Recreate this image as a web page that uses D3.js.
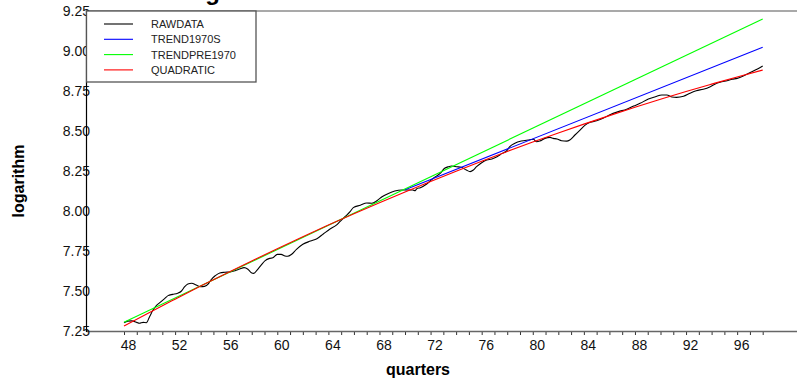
<!DOCTYPE html>
<html>
<head>
<meta charset="utf-8">
<script src="https://cdn.jsdelivr.net/npm/d3@7"></script>
<style>
  html, body { margin: 0; padding: 0; background: #fff; }
  svg { display: block; font-family: "Liberation Sans", Arial, sans-serif; }
</style>
</head>
<body>
<svg id="chart" width="797" height="383"></svg>
<script>
// Log of quarterly output, 1948-1998, with fitted trends.
const rawYears = [
  1948.0, 1948.3, 1948.6, 1949.0, 1949.2, 1949.5, 1949.75, 1950.0, 1950.27, 1950.5,
  1950.8, 1951.2, 1951.45, 1951.8, 1952.2, 1952.5, 1952.75, 1953.0, 1953.3, 1953.65,
  1954.0, 1954.3, 1954.6, 1954.8, 1955.15, 1955.5, 1955.9, 1956.3, 1956.7, 1957.05,
  1957.4, 1957.7, 1957.97, 1958.15, 1958.4, 1958.75, 1959.05, 1959.4, 1959.65, 1960.0,
  1960.3, 1960.6, 1960.8, 1961.1, 1961.5, 1962.0, 1962.6, 1963.1, 1963.6, 1964.1,
  1964.65, 1964.9, 1965.3, 1965.7, 1965.95, 1966.5, 1967.0, 1967.4, 1967.8, 1968.2,
  1968.7, 1969.2, 1969.75, 1970.25, 1970.6, 1970.8, 1970.9, 1971.2, 1971.7, 1972.2,
  1972.75, 1973.1, 1973.4, 1973.65, 1974.05, 1974.4, 1974.8, 1975.1, 1975.35, 1975.6,
  1976.0, 1976.4, 1976.8, 1977.2, 1977.6, 1977.95, 1978.2, 1978.6, 1979.1, 1979.65,
  1980.05, 1980.3, 1980.55, 1980.95, 1981.35, 1981.6, 1981.9, 1982.25, 1982.65, 1982.9,
  1983.3, 1983.7, 1984.1, 1984.5, 1985.0, 1985.5, 1986.0, 1986.7, 1987.35, 1987.9,
  1988.4, 1989.05, 1989.6, 1990.1, 1990.5, 1990.9, 1991.25, 1991.8, 1992.3, 1992.8,
  1993.35, 1993.9, 1994.4, 1994.8, 1995.2, 1995.6, 1996.0, 1996.35, 1996.75, 1997.15,
  1997.55, 1998.0
];
const rawLog = [
  7.302, 7.312, 7.313, 7.304, 7.298, 7.304, 7.302, 7.339, 7.381, 7.406,
  7.427, 7.454, 7.471, 7.479, 7.486, 7.500, 7.527, 7.544, 7.548, 7.537,
  7.527, 7.529, 7.544, 7.569, 7.596, 7.613, 7.617, 7.619, 7.627, 7.637,
  7.646, 7.636, 7.614, 7.610, 7.629, 7.663, 7.690, 7.704, 7.708, 7.729,
  7.729, 7.719, 7.717, 7.728, 7.760, 7.792, 7.812, 7.827, 7.856, 7.886,
  7.913, 7.933, 7.964, 7.996, 8.021, 8.036, 8.050, 8.048, 8.064, 8.089,
  8.110, 8.125, 8.131, 8.131, 8.131, 8.127, 8.138, 8.146, 8.169, 8.204,
  8.235, 8.267, 8.277, 8.281, 8.277, 8.273, 8.256, 8.246, 8.256, 8.277,
  8.302, 8.319, 8.325, 8.339, 8.360, 8.375, 8.402, 8.423, 8.437, 8.444,
  8.448, 8.433, 8.437, 8.454, 8.460, 8.454, 8.450, 8.439, 8.437, 8.444,
  8.475, 8.506, 8.537, 8.554, 8.564, 8.579, 8.600, 8.621, 8.636, 8.656,
  8.673, 8.700, 8.714, 8.725, 8.725, 8.712, 8.710, 8.717, 8.736, 8.752,
  8.761, 8.777, 8.798, 8.808, 8.814, 8.823, 8.829, 8.839, 8.854, 8.871,
  8.886, 8.906
];

// Linear trend fitted on the 1970s, drawn from 1970 on.
const trend1970sYears = [1970, 1998];
const trend1970sLog = [8.133, 9.023];

// Linear trend fitted before 1970, extended over the whole sample.
const trendPre1970Years = [1948, 1998];
const trendPre1970Log = [7.304, 9.200];

// Quadratic trend, every two years.
const quadYears = [
  1948, 1950, 1952, 1954, 1956, 1958, 1960, 1962, 1964, 1966, 1968, 1970, 1972,
  1974, 1976, 1978, 1980, 1982, 1984, 1986, 1988, 1990, 1992, 1994, 1996, 1998
];
const quadLog = [
  7.281, 7.366, 7.449, 7.531, 7.610, 7.688, 7.764, 7.839, 7.912, 7.983, 8.052, 8.119, 8.185,
  8.249, 8.311, 8.372, 8.431, 8.488, 8.543, 8.596, 8.648, 8.698, 8.747, 8.793, 8.838, 8.881
];

const yTickValues = [7.25, 7.50, 7.75, 8.00, 8.25, 8.50, 8.75, 9.00, 9.25];
const xLabelYears = [1948, 1952, 1956, 1960, 1964, 1968, 1972, 1976, 1980, 1984, 1988, 1992, 1996];

const seriesNames = ["RAWDATA", "TREND1970S", "TRENDPRE1970", "QUADRATIC"];
const seriesColors = ["#000000", "#0000ff", "#00ff00", "#ff0000"];

const svg = d3.select("#chart");
const W = 797, H = 383;
const plot = { left: 86.5, right: 797, top: 11, bottom: 331 };

const x = d3.scaleLinear().domain([1948, 1998]).range([124, 762.7]);
const y = d3.scaleLinear().domain([7.25, 9.25]).range([plot.bottom, plot.top]);

svg.append("rect").attr("width", W).attr("height", H).attr("fill", "#fff");

// Chart title, set high so it runs off the top edge
svg.append("text")
  .attr("x", 176).attr("y", 0)
  .attr("font-size", 24).attr("font-weight", "bold")
  .text("Log of real GDP");

// Frame: top border and bottom axis in grey, left axis in black
svg.append("line")
  .attr("x1", plot.left).attr("x2", plot.right)
  .attr("y1", plot.top).attr("y2", plot.top)
  .attr("stroke", "#555").attr("stroke-width", 1.2);

// Bottom axis with yearly ticks
const xAxis = d3.axisBottom(x)
  .tickValues(d3.range(1948, 1999))
  .tickSize(4)
  .tickFormat("");
const gx = svg.append("g").attr("transform", `translate(0,${plot.bottom})`).call(xAxis);
gx.select(".domain").remove();
gx.selectAll(".tick line").attr("stroke", "#333");
svg.append("line")
  .attr("x1", plot.left).attr("x2", plot.right)
  .attr("y1", plot.bottom + 0.5).attr("y2", plot.bottom + 0.5)
  .attr("stroke", "#666").attr("stroke-width", 1.5);

// Year labels sit just right of their tick
svg.append("g").selectAll("text").data(xLabelYears).join("text")
  .attr("x", d => x(d) + 4.5)
  .attr("y", 350)
  .attr("text-anchor", "middle")
  .attr("font-size", 14)
  .attr("fill", "#111")
  .text(d => String(d).slice(2));

// Left axis labels (no tick marks)
const yAxis = d3.axisLeft(y)
  .tickValues(yTickValues)
  .tickSize(0)
  .tickPadding(0)
  .tickFormat(d3.format(".2f"));
const gy = svg.append("g").attr("transform", "translate(90,0)").call(yAxis);
gy.select(".domain").remove();
gy.selectAll(".tick text")
  .attr("font-size", 14)
  .attr("font-family", "Liberation Sans, Arial, sans-serif")
  .attr("fill", "#111");

svg.append("line")
  .attr("x1", plot.left).attr("x2", plot.left)
  .attr("y1", plot.top).attr("y2", plot.bottom + 1)
  .attr("stroke", "#000").attr("stroke-width", 1.2);

// Series
const line = d3.line().x(d => x(d[0])).y(d => y(d[1]));
const zip = (a, b) => a.map((v, i) => [v, b[i]]);

const series = [
  { pts: zip(rawYears, rawLog), curve: d3.curveMonotoneX },
  { pts: zip(trend1970sYears, trend1970sLog), curve: d3.curveLinear },
  { pts: zip(trendPre1970Years, trendPre1970Log), curve: d3.curveLinear },
  { pts: zip(quadYears, quadLog), curve: d3.curveNatural }
];

series.forEach((s, i) => {
  svg.append("path")
    .attr("d", line.curve(s.curve)(s.pts))
    .attr("fill", "none")
    .attr("stroke", seriesColors[i])
    .attr("stroke-width", 1.1)
    .attr("stroke-linejoin", "round");
});

// Legend
const lg = svg.append("g");
lg.append("rect")
  .attr("x", plot.left).attr("y", plot.top)
  .attr("width", 256 - plot.left).attr("height", 82 - plot.top)
  .attr("fill", "#fff").attr("stroke", "#555").attr("stroke-width", 1.3);
seriesNames.forEach((name, i) => {
  const cy = 24 + i * 15.3;
  lg.append("line")
    .attr("x1", 104).attr("x2", 133)
    .attr("y1", cy).attr("y2", cy)
    .attr("stroke", seriesColors[i]).attr("stroke-width", 1.1);
  lg.append("text")
    .attr("x", 151).attr("y", cy + 4)
    .attr("font-size", 11)
    .attr("fill", "#222")
    .text(name);
});

// Axis titles
svg.append("text")
  .attr("x", 418).attr("y", 375)
  .attr("text-anchor", "middle")
  .attr("font-size", 16).attr("font-weight", "bold")
  .text("quarters");
svg.append("text")
  .attr("transform", "translate(24,181) rotate(-90)")
  .attr("text-anchor", "middle")
  .attr("font-size", 16).attr("font-weight", "bold")
  .text("logarithm");
</script>
</body>
</html>
